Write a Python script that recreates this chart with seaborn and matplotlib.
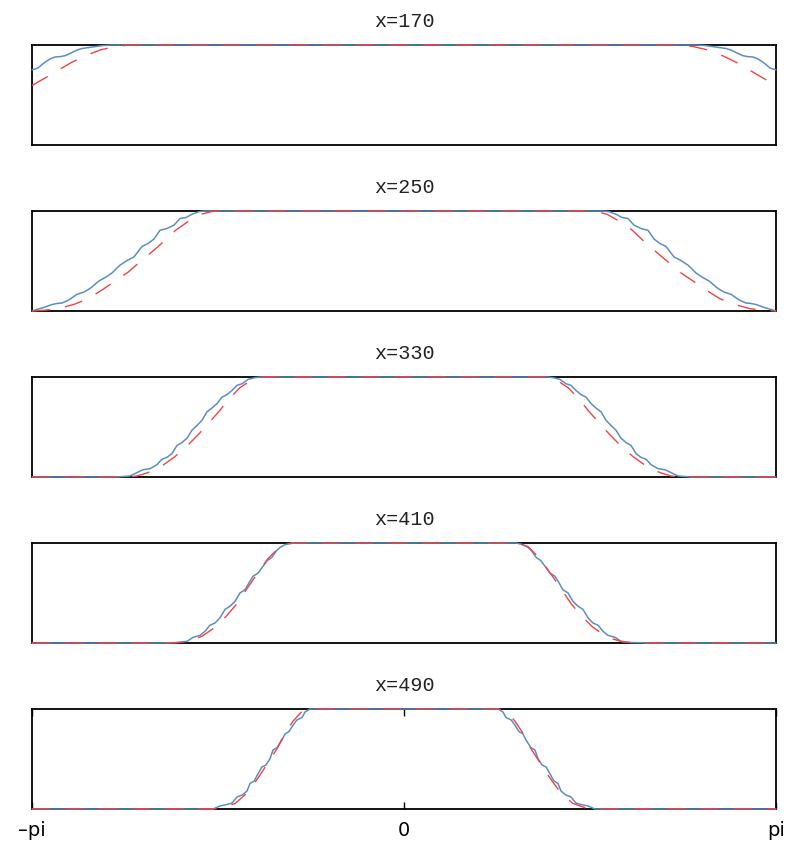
import matplotlib
matplotlib.use("Agg")
import matplotlib.pyplot as plt
import seaborn as sns
import pandas as pd

# ---- data: left halves (x in units of pi), curves are mirror-symmetric about 0 ----
titles = ["x=170", "x=250", "x=330", "x=410", "x=490"]

blue1_x = [-1.0, -0.984, -0.968, -0.952, -0.938, -0.922, -0.909, -0.895, -0.879, -0.866, -0.847, -0.828, -0.809, -0.785]
blue1_y = [0.75, 0.77, 0.82, 0.86, 0.88, 0.885, 0.895, 0.92, 0.95, 0.965, 0.975, 0.985, 0.995, 1.0]
red1_x = [-1.0, -0.965, -0.933, -0.895, -0.858, -0.817, -0.777, -0.737]
red1_y = [0.595, 0.67, 0.74, 0.823, 0.89, 0.95, 0.985, 1.0]

blue2_x = [-1.000, -0.973, -0.946, -0.933, -0.919, -0.901, -0.879, -0.860, -0.844, -0.820, -0.801, -0.785, -0.763,
           -0.742, -0.726, -0.704, -0.688, -0.672, -0.656, -0.637, -0.618, -0.602, -0.586, -0.570, -0.551, -0.535]
blue2_y = [0.0, 0.03, 0.065, 0.075, 0.08, 0.11, 0.167, 0.19, 0.225, 0.30, 0.34, 0.38, 0.46,
           0.51, 0.54, 0.647, 0.675, 0.72, 0.807, 0.825, 0.86, 0.925, 0.935, 0.967, 0.993, 1.0]
red2_x = [-1.0, -0.965, -0.930, -0.884, -0.847, -0.809, -0.777, -0.742, -0.710, -0.677, -0.642, -0.613, -0.581, -0.546, -0.516, -0.495]
red2_y = [0.0, 0.008, 0.023, 0.07, 0.127, 0.217, 0.30, 0.387, 0.49, 0.593, 0.707, 0.81, 0.893, 0.967, 0.995, 1.0]

blue3_x = [-1.0, -0.772, -0.737, -0.718, -0.702, -0.683, -0.664, -0.651, -0.637, -0.624, -0.610, -0.597, -0.583,
           -0.570, -0.556, -0.543, -0.530, -0.516, -0.503, -0.489, -0.476, -0.462, -0.449, -0.435, -0.419, -0.401, -0.387]
blue3_y = [0.0, 0.0, 0.01, 0.043, 0.073, 0.083, 0.123, 0.177, 0.197, 0.233, 0.317, 0.343, 0.39,
           0.467, 0.517, 0.567, 0.65, 0.69, 0.733, 0.80, 0.823, 0.867, 0.917, 0.933, 0.977, 0.993, 1.0]
red3_x = [-1.0, -0.742, -0.718, -0.691, -0.656, -0.618, -0.586, -0.554, -0.524, -0.497, -0.468, -0.441, -0.414, -0.387, -0.366]
red3_y = [0.0, 0.0, 0.01, 0.04, 0.097, 0.197, 0.30, 0.42, 0.543, 0.657, 0.79, 0.893, 0.96, 0.995, 1.0]

blue4_x = [-1.0, -0.656, -0.610, -0.583, -0.567, -0.548, -0.535, -0.522, -0.508, -0.495, -0.481, -0.468, -0.454,
           -0.441, -0.427, -0.417, -0.406, -0.392, -0.379, -0.368, -0.355, -0.344, -0.333, -0.320, -0.301]
blue4_y = [0.0, 0.0, 0.005, 0.017, 0.057, 0.077, 0.117, 0.177, 0.20, 0.25, 0.337, 0.367, 0.417,
           0.50, 0.533, 0.60, 0.667, 0.70, 0.767, 0.823, 0.857, 0.917, 0.957, 0.983, 1.0]
red4_x = [-1.0, -0.624, -0.589, -0.562, -0.543, -0.508, -0.478, -0.449, -0.427, -0.401, -0.366, -0.333, -0.306, -0.288]
red4_y = [0.0, 0.0, 0.01, 0.04, 0.067, 0.157, 0.267, 0.393, 0.517, 0.657, 0.843, 0.965, 0.995, 1.0]

blue5_x = [-1.0, -0.548, -0.513, -0.495, -0.476, -0.462, -0.449, -0.435, -0.422, -0.414, -0.403, -0.392, -0.382,
           -0.371, -0.360, -0.352, -0.341, -0.328, -0.320, -0.309, -0.298, -0.288, -0.274, -0.266, -0.253]
blue5_y = [0.0, 0.0, 0.0, 0.03, 0.045, 0.06, 0.12, 0.14, 0.18, 0.255, 0.28, 0.355, 0.42,
           0.44, 0.505, 0.59, 0.615, 0.69, 0.75, 0.775, 0.84, 0.89, 0.915, 0.97, 1.0]
red5_x = [-1.0, -0.516, -0.489, -0.454, -0.422, -0.398, -0.387, -0.366, -0.341, -0.323, -0.298, -0.272, -0.253]
red5_y = [0.0, 0.0, 0.01, 0.055, 0.16, 0.28, 0.34, 0.46, 0.605, 0.74, 0.88, 0.985, 1.0]

tick_pos = [-1.0, 0.0, 1.0]
tick_labels = ["\u2013pi", "0", "pi"]

blues = [(blue1_x, blue1_y), (blue2_x, blue2_y), (blue3_x, blue3_y), (blue4_x, blue4_y), (blue5_x, blue5_y)]
reds = [(red1_x, red1_y), (red2_x, red2_y), (red3_x, red3_y), (red4_x, red4_y), (red5_x, red5_y)]


def mirror(xs, ys):
    fx = list(xs) + [-v for v in reversed(xs)]
    fy = list(ys) + list(reversed(ys))
    return pd.DataFrame({"x": fx, "y": fy})


sns.set_theme(style="white")
plt.rcParams["font.family"] = ["DejaVu Sans"]
plt.rcParams["lines.scale_dashes"] = False

W, H = 788, 848
fig = plt.figure(figsize=(W / 100, H / 100), dpi=100)

tops = [45, 211, 377, 543, 709]
left_px, right_px, h_px = 32, 776, 100

blue_c = "#5b8ec4"
red_c = "#ee4444"

for i, top in enumerate(tops):
    ax = fig.add_axes([left_px / W, (H - top - h_px) / H, (right_px - left_px) / W, h_px / H])
    bx, by = blues[i]
    rx, ry = reds[i]
    db = mirror(bx, by)
    dr = mirror(rx, ry)
    sns.lineplot(data=db, x="x", y="y", ax=ax, color=blue_c, lw=1.1, sort=False, estimator=None)
    sns.lineplot(data=dr, x="x", y="y", ax=ax, color=red_c, lw=1.0, sort=False, estimator=None)
    lines = ax.get_lines()
    for ln in lines:
        ln.set_clip_on(False)
        ln.set_zorder(3)
    lines[-1].set_dashes((13, 11))
    ax.set_xlim(-1, 1)
    ax.set_ylim(0, 1)
    ax.set_xlabel("")
    ax.set_ylabel("")
    for sp in ax.spines.values():
        sp.set_visible(True)
        sp.set_color("black")
        sp.set_linewidth(1.3)
        sp.set_zorder(1)
    ax.set_yticks([])
    ax.set_title(titles[i], family=["Liberation Mono", "DejaVu Sans Mono"], fontsize=14.5,
                 pad=13, color="#222222")
    if i == len(tops) - 1:
        ax.set_xticks(tick_pos)
        ax.set_xticklabels(tick_labels, fontsize=14)
        ax.tick_params(axis="x", direction="in", top=True, bottom=True, length=5, width=1,
                       color="black", pad=9, labelcolor="black")
    else:
        ax.set_xticks([])

fig.savefig("out.png", dpi=100)
